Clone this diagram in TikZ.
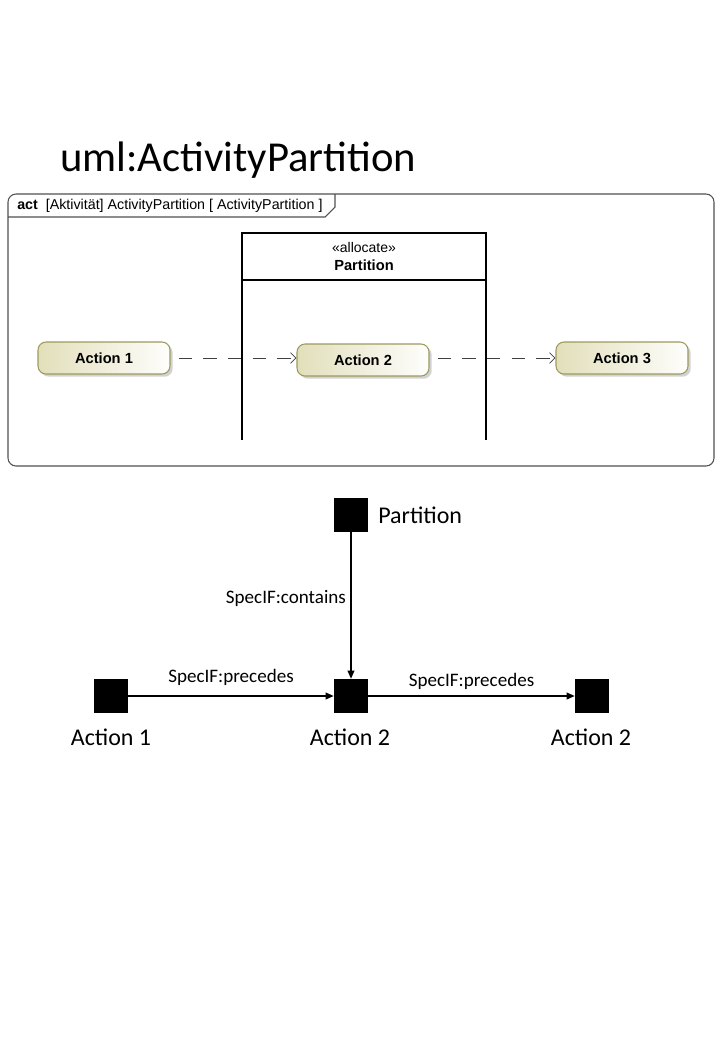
\documentclass[tikz,border=0pt]{standalone}
\usepackage{fontspec}
\setmainfont{Carlito}
\newfontfamily\umlfont{Liberation Sans}
\usetikzlibrary{arrows.meta,positioning,shadows}
\definecolor{actfill}{RGB}{226, 223, 186}
\definecolor{actborder}{RGB}{158, 154, 94}
\definecolor{framegray}{RGB}{80, 80, 80}

\begin{document}
\begin{tikzpicture}[x=0.75pt, y=-0.75pt,
    action/.style={draw=actborder, line width=0.8pt, rounded corners=6pt,
        left color=actfill, right color=white!96!actfill,
        minimum width=99pt, minimum height=24pt, inner sep=0pt,
        font=\umlfont\fontsize{11}{13}\selectfont\bfseries,
        drop shadow={shadow xshift=2pt, shadow yshift=-2pt, fill=black!35}},
    flow/.style={dashed, dash pattern=on 10pt off 8.5pt, line width=0.6pt, draw=black!75,
        -{Straight Barb[length=4pt, width=8pt]}, shorten <=6pt},
    lane/.style={line width=1.6pt},
    res/.style={fill=black, minimum size=25.5pt, inner sep=0pt},
    reslbl/.style={font=\fontsize{18}{21}\selectfont},
    rel/.style={line width=1pt, -{Triangle[length=6pt, width=5pt]}},
    rellbl/.style={font=\fontsize{14.3}{17}\selectfont}]
  \useasboundingbox (0,0) rectangle (720,1047);

  % title
  \node[anchor=base west, inner sep=0pt, font=\fontsize{32}{38}\selectfont] (title) at (60,171) {uml:ActivityPartition};

  % activity frame
  \draw[framegray, line width=0.8pt, rounded corners=6pt] (8,194) rectangle (714,466);
  \draw[framegray, line width=0.8pt] (8,217) -- (325,217) -- (335,207) -- (335,194);
  \node[anchor=west, inner sep=0pt, font=\umlfont\fontsize{10.7}{12}\selectfont] (hdr) at (17,206)
      {\textbf{act}\ \ [Aktivität] ActivityPartition [ ActivityPartition ]};

  % partition
  \draw[lane] (242,440) -- (242,233) -- (486,233) -- (486,440);
  \draw[lane] (242,280) -- (486,280);
  \node[font=\umlfont\fontsize{10.5}{12}\selectfont] (stereo) at (364,247) {«allocate»};
  \node[font=\umlfont\fontsize{11}{13}\selectfont\bfseries] (lanename) at (364,265) {Partition};

  \node[action] (act1) at (104,358) {Action 1};
  \node[action] (act2) at (363,360) {Action 2};
  \node[action] (act3) at (622,358) {Action 3};

  \draw[flow] (act1.east) -- (act1.east -| act2.west);
  \draw[flow] (act2.east |- act1.east) -- (act3.west);

  % SpecIF graph
  \node[res] (part) at (351,515) {};
  \node[reslbl, right=4pt of part] (parttxt) {Partition};
  \node[res] (a1) at (111,696) {};
  \node[res] (a2) at (351,696) {};
  \node[res] (a3) at (592,696) {};
  \node[reslbl] (a1txt) at (111,737) {Action 1};
  \node[reslbl] (a2txt) at (350,737) {Action 2};
  \node[reslbl] (a3txt) at (591,737) {Action 2};

  \draw[rel] (part) -- node[rellbl, left, pos=0.45] {SpecIF:contains} (a2);
  \draw[rel] (a1) -- node[rellbl, above, yshift=4pt] {SpecIF:precedes} (a2);
  \draw[rel] (a2) -- node[rellbl, above, yshift=1pt] {SpecIF:precedes} (a3);
\end{tikzpicture}
\end{document}
